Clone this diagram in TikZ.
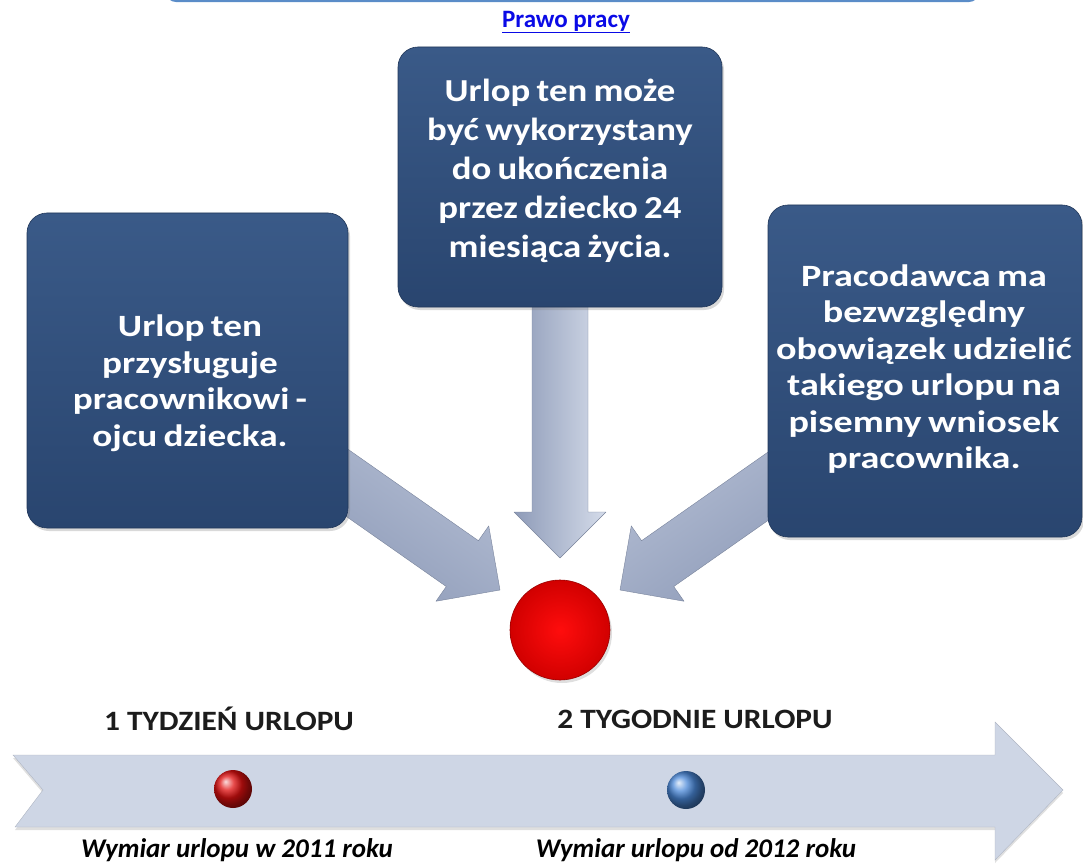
\documentclass[tikz,border=0pt]{standalone}
\usepackage{fontspec}
\setmainfont{Carlito}
\usetikzlibrary{calc,shadows,shadings}
\definecolor{boxtop}{HTML}{3A5A88}
\definecolor{boxbot}{HTML}{29456F}
\definecolor{arrdark}{HTML}{8E9BB8}
\definecolor{arrmid}{HTML}{B3BDD3}
\definecolor{arrlight}{HTML}{D5DCEA}
\definecolor{barfill}{HTML}{CED6E5}
\definecolor{linkblue}{HTML}{0A0AE6}
\definecolor{topline}{HTML}{5A8CC8}
\definecolor{labeldark}{HTML}{1C1C1C}
\definecolor{dotblue}{HTML}{4A88D8}
\definecolor{dotred}{HTML}{E01010}
\newcommand\tightsp{\spaceskip=0.17em\relax}
\newcommand\blockarr[3]{% #1 options, #2 start, #3 tip
  \coordinate (h) at ($(#3)!46pt!(#2)$);
  \path[arrowshape,#1] (#3) -- ($(h)!46pt!90:(#3)$) -- ($(h)!28pt!90:(#3)$)
    -- ($(#2)!28pt!90:(#3)$) -- ($(#2)!28pt!-90:(#3)$)
    -- ($(h)!28pt!-90:(#3)$) -- ($(h)!46pt!-90:(#3)$) -- cycle;
}
\begin{document}
\begin{tikzpicture}[x=1pt,y=-1pt,
  box/.style={rounded corners=20pt, top color=boxtop, bottom color=boxbot,
    draw=boxbot!80!black, line width=0.6pt,
    drop shadow={opacity=0.3, shadow xshift=2pt, shadow yshift=-3pt}},
  boxtext/.style={text=white, align=center, inner sep=0pt},
  arrowshape/.style={draw=arrdark!85!black, line width=0.4pt, line join=round},
  toplabel/.style={text=labeldark, font=\fontsize{28}{32}\selectfont\bfseries, inner sep=0pt, xscale=1.12},
  botlabel/.style={text=black, font=\fontsize{27}{31}\selectfont\bfseries\itshape, inner sep=0pt}]
\useasboundingbox (0,0) rectangle (1083,866);
\clip (0,0) rectangle (1083,866);

% top frame edge
\draw[topline, line width=2pt, rounded corners=12pt] (165,-40) rectangle (980,1.2);

% title link
\node[text=linkblue, font=\fontsize{25}{28}\selectfont\bfseries, inner sep=0pt] (title) at (566,22) {\underline{Prawo pracy}};

% arrows (behind boxes)
\coordinate (lstart) at (319.8,463.7);
\coordinate (ltip) at (500,590);
\coordinate (rstart) at (800.2,463.7);
\coordinate (rtip) at (620,590);
\coordinate (mstart) at (560,290);
\coordinate (mtip) at (560,558);
\blockarr{left color=arrdark, middle color=arrlight, right color=arrmid, shading angle=145}{lstart}{ltip}
\blockarr{left color=arrmid, middle color=arrlight, right color=arrdark, shading angle=35}{rstart}{rtip}
\blockarr{left color=arrdark, middle color=arrmid, right color=arrlight}{mstart}{mtip}

% boxes
\node[box, minimum width=321pt, minimum height=315pt] (lbox) at (187.5,370.5) {};
\node[box, minimum width=324pt, minimum height=260pt] (mbox) at (560,177) {};
\node[box, minimum width=314pt, minimum height=332pt] (rbox) at (925,371) {};

\node[boxtext, xscale=1.2, font=\fontsize{31}{36.5}\selectfont\bfseries\tightsp] (ltext) at (190,383)
  {Urlop ten\\przysługuje\\pracownikowi -\\ojcu dziecka.};
\node[boxtext, xscale=1.15, font=\fontsize{32}{39}\selectfont\bfseries\tightsp] (mtext) at (560,171)
  {Urlop ten może\\być wykorzystany\\do ukończenia\\przez dziecko 24\\miesiąca życia.};
\node[boxtext, xscale=1.23, font=\fontsize{31}{36.5}\selectfont\bfseries\tightsp] (rtext) at (924,369)
  {Pracodawca ma\\bezwzględny\\obowiązek udzielić\\takiego urlopu na\\pisemny wniosek\\pracownika.};

% central red circle
\node[circle, minimum size=100pt, inner sep=0pt, draw=red!60!black, line width=0.6pt,
  shading=radial, inner color=red!95!white, outer color=red!82!black,
  drop shadow={opacity=0.25, shadow xshift=2pt, shadow yshift=-3pt}] (hub) at (560,630) {};

% timeline bar
\path[fill=barfill, draw=barfill!85!black, line width=0.4pt,
  drop shadow={opacity=0.25, shadow xshift=0pt, shadow yshift=-3pt}]
  (13,755) -- (995,755) -- (995,722) -- (1063,790) -- (995,860) -- (995,827)
  -- (15,827) -- (43,790) -- cycle;

\node[toplabel] (l1) at (229,719) {1 TYDZIEŃ URLOPU};
\node[toplabel] (l2) at (695,719) {2 TYGODNIE URLOPU};

\node[circle, minimum size=38pt, inner sep=0pt, ball color=dotred] (d1) at (233,789) {};
\node[circle, minimum size=38pt, inner sep=0pt, ball color=dotblue] (d2) at (686,790) {};

\node[botlabel] (b1) at (237,850) {Wymiar urlopu w 2011 roku};
\node[botlabel] (b2) at (696,850) {Wymiar urlopu od 2012 roku};
\end{tikzpicture}
\end{document}
